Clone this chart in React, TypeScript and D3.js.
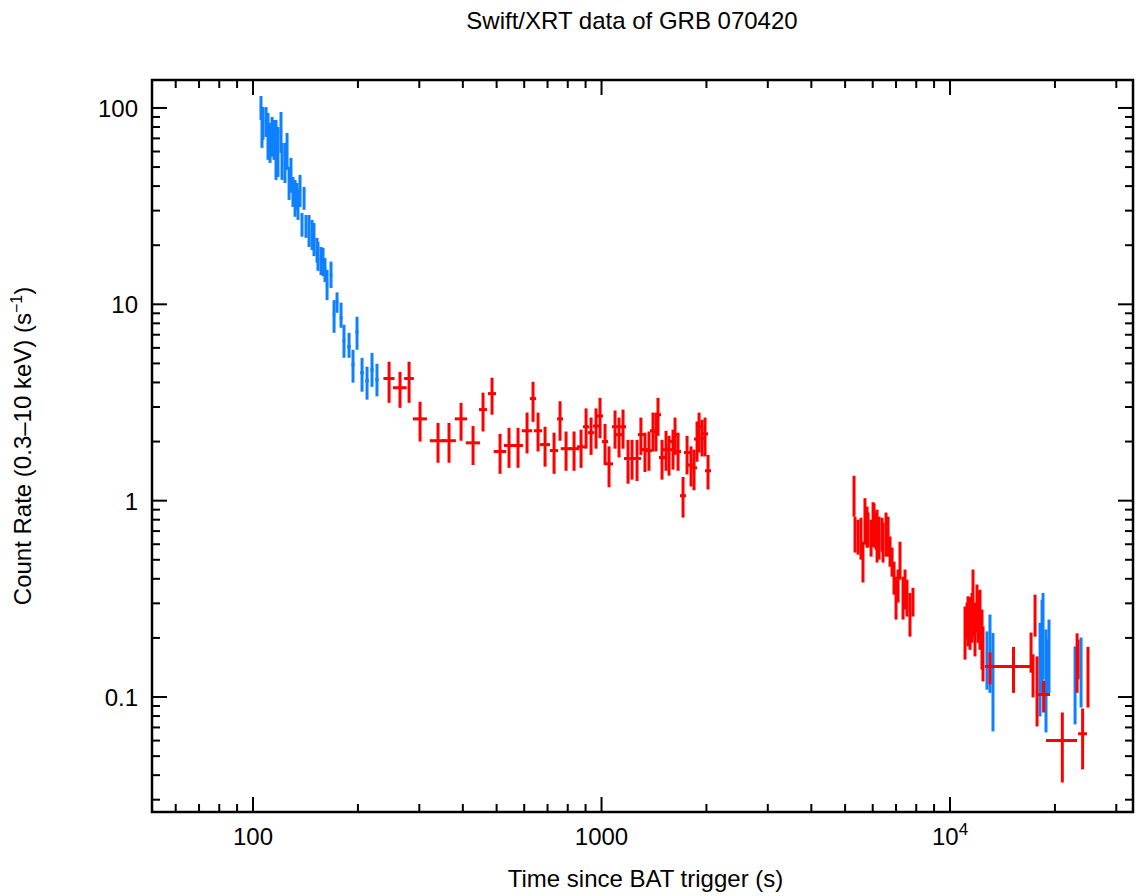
import React from 'react';
import * as d3 from 'd3';

// WT mode points (blue)
const wtTime = [105.4, 106.1, 106.8, 109.0, 110.4, 111.9, 113.4, 114.9, 116.4, 117.9, 120.3, 121.1, 123.5, 125.2, 126.9, 128.5, 130.2, 132.0, 133.7, 134.6, 136.4, 138.2, 140.1, 141.9, 144.8, 147.7, 149.6, 152.6, 153.6, 156.7, 158.8, 160.9, 163.1, 167.4, 170.8, 174.2, 178.9, 182.4, 188.6, 193.6, 198.8, 205.5, 212.4, 219.5, 226.8,
  12765, 13021, 13282, 18127, 18366, 18488, 18853, 18978, 19231, 22846, 23769];
const wtTimeErr = [0.8, 0.5, 0.6, 0.9, 0.7, 0.8, 0.8, 0.8, 0.8, 0.9, 0.9, 0.6, 1.0, 0.9, 0.9, 0.9, 0.9, 0.9, 0.8, 0.7, 1.0, 1.0, 1.0, 1.0, 1.0, 1.1, 1.1, 1.1, 1.0, 1.2, 1.2, 1.2, 1.3, 1.5, 1.5, 1.6, 1.8, 1.8, 2.2, 2.0, 2.0, 2.5, 2.5, 2.5, 2.5,
  40, 40, 40, 50, 50, 50, 50, 50, 60, 60, 60];
const wtRate = [100, 78.2, 83.9, 85.0, 71.2, 66.4, 71.2, 68.7, 61.1, 59.7, 75.5, 53.1, 52.5, 59.7, 41.5, 45.6, 37.4, 34.8, 35.3, 32.1, 37.9, 25.4, 34.8, 25.2, 23.6, 22.6, 21.3, 18.9, 17.5, 16.7, 16.5, 15.0, 12.6, 14.1, 8.84, 10.3, 8.54, 6.52, 6.08, 4.92, 7.25, 4.48, 4.08, 4.64, 4.13,
  0.153, 0.146, 0.123, 0.146, 0.165, 0.234, 0.123, 0.155, 0.176, 0.126, 0.138];
const wtRateLo = [86.9, 62.6, 68.7, 71.2, 54.4, 52.5, 56.4, 54.4, 43.0, 44.5, 59.0, 43.0, 41.5, 48.4, 34.0, 37.0, 31.3, 27.9, 30.3, 26.9, 31.3, 22.1, 30.3, 21.8, 19.6, 18.9, 17.6, 16.3, 14.8, 14.1, 13.9, 13.0, 10.5, 12.1, 7.16, 9.05, 7.59, 5.34, 5.34, 3.99, 5.87, 3.59, 3.27, 3.80, 3.40,
  0.109, 0.105, 0.0668, 0.0796, 0.105, 0.123, 0.066, 0.105, 0.105, 0.0725, 0.0884];
const wtRateHi = [115.1, 97.7, 101.2, 101.0, 94.3, 83.9, 90.0, 86.9, 86.9, 80.0, 95.4, 66.4, 66.4, 74.6, 50.1, 55.7, 44.5, 43.0, 41.5, 38.3, 45.6, 29.2, 39.6, 28.5, 28.5, 26.9, 26.0, 21.8, 20.8, 19.6, 19.4, 17.2, 15.0, 16.5, 10.5, 11.5, 10.2, 7.87, 7.16, 5.87, 8.64, 5.34, 4.81, 5.66, 4.98,
  0.216, 0.263, 0.212, 0.239, 0.313, 0.339, 0.221, 0.196, 0.248, 0.181, 0.201];

// PC mode points (red)
const pcTime = [245.7, 264.1, 280.4, 301.5, 339.5, 365.1, 395.3, 427.9, 457.1, 485.1, 511.5, 542.7, 576.0, 611.3, 636.0, 657.4, 688.6, 730.8, 760.3, 791.0, 834.0, 873.5, 902.9, 933.2, 964.3, 990.1, 1023.4, 1050.9, 1093.4, 1122.6, 1152.7, 1191.4, 1223.3, 1264.4, 1297.2, 1332.6, 1368.3, 1405.0, 1433.4, 1452.3, 1491.3, 1531.3, 1562.1, 1603.9, 1625.2, 1657.9, 1713.6, 1759.5, 1806.6, 1842.8, 1879.7, 1904.7, 1942.8, 1981.7, 2021.3,
  5303, 5338, 5445, 5552, 5626, 5701, 5780, 5818, 5935, 6014, 6054, 6134, 6175, 6256, 6381, 6424, 6552, 6640, 6728, 6817, 6907, 6999, 7093, 7186, 7331, 7429, 7527, 7675, 7829,
  11042, 11189, 11263, 11411, 11563, 11640, 11794, 11951, 12030, 12190, 12352, 12434, 13029, 15213, 17080, 17307, 17537, 17770, 18564, 21000, 23150, 23303, 24014, 24884];
const pcTimeErr = [9, 12, 9, 14, 18, 17, 16, 20, 12, 13, 21, 18, 19, 21, 13, 18, 23, 20, 15, 27, 28, 23, 18, 19, 19, 20, 21, 28, 22, 23, 23, 32, 33, 34, 26, 27, 28, 28, 29, 29, 30, 31, 31, 32, 33, 33, 34, 35, 36, 37, 38, 38, 39, 40, 40,
  30, 25, 30, 30, 30, 30, 30, 30, 30, 30, 30, 30, 30, 30, 30, 30, 35, 35, 35, 35, 40, 40, 40, 45, 45, 45, 45, 50, 60,
  60, 60, 60, 60, 60, 60, 60, 60, 60, 70, 70, 70, 430, 1754, 90, 90, 90, 90, 794, 2150, 100, 100, 711, 120];
const pcRate = [4.19, 3.76, 4.19, 2.61, 2.02, 2.02, 2.61, 1.97, 2.91, 3.51, 1.78, 1.91, 1.91, 2.27, 3.31, 2.27, 1.93, 1.80, 2.61, 1.84, 1.84, 1.88, 2.38, 2.22, 2.40, 2.70, 2.00, 1.54, 2.38, 2.17, 2.38, 1.64, 1.64, 1.64, 2.17, 1.82, 1.80, 2.27, 2.25, 2.74, 1.66, 1.82, 1.82, 2.00, 2.17, 1.78, 1.06, 1.76, 1.52, 1.47, 2.06, 2.38, 2.08, 2.19, 1.42,
  1.09, 0.705, 0.657, 0.657, 0.501, 0.791, 0.737, 0.712, 0.648, 0.791, 0.791, 0.672, 0.657, 0.648, 0.705, 0.604, 0.712, 0.657, 0.544, 0.489, 0.402, 0.319, 0.352, 0.495, 0.332, 0.339, 0.313, 0.296, 0.303,
  0.208, 0.242, 0.234, 0.221, 0.248, 0.313, 0.221, 0.279, 0.248, 0.248, 0.196, 0.169, 0.143, 0.143, 0.171, 0.138, 0.269, 0.127, 0.103, 0.0601, 0.146, 0.138, 0.0650, 0.133];
const pcRateLo = [3.15, 2.97, 3.15, 2.00, 1.56, 1.56, 2.02, 1.52, 2.25, 2.74, 1.37, 1.47, 1.47, 1.74, 2.52, 1.78, 1.49, 1.37, 2.02, 1.42, 1.42, 1.47, 1.84, 1.71, 1.84, 2.08, 1.52, 1.17, 1.84, 1.66, 1.84, 1.22, 1.28, 1.26, 1.71, 1.40, 1.42, 1.78, 1.78, 2.14, 1.28, 1.42, 1.34, 1.44, 1.71, 1.42, 0.82, 1.36, 1.18, 1.13, 1.58, 1.76, 1.68, 1.68, 1.14,
  0.829, 0.544, 0.531, 0.501, 0.383, 0.597, 0.577, 0.577, 0.519, 0.584, 0.577, 0.563, 0.484, 0.501, 0.550, 0.484, 0.519, 0.519, 0.461, 0.410, 0.332, 0.248, 0.303, 0.396, 0.248, 0.279, 0.257, 0.203, 0.257,
  0.155, 0.196, 0.181, 0.174, 0.189, 0.203, 0.161, 0.213, 0.189, 0.174, 0.138, 0.120, 0.116, 0.105, 0.133, 0.0996, 0.203, 0.0708, 0.0834, 0.0367, 0.105, 0.123, 0.0428, 0.0884];
const pcRateHi = [5.10, 4.53, 5.10, 3.19, 2.49, 2.49, 3.15, 2.40, 3.55, 4.23, 2.19, 2.35, 2.35, 2.81, 4.03, 2.81, 2.38, 2.22, 3.21, 2.25, 2.25, 2.30, 2.95, 2.65, 2.95, 3.34, 2.46, 1.89, 2.88, 2.65, 2.91, 2.04, 2.04, 2.04, 2.65, 2.22, 2.25, 2.81, 2.81, 3.34, 2.04, 2.27, 2.14, 2.30, 2.65, 2.22, 1.32, 2.14, 1.89, 1.82, 2.53, 2.81, 2.58, 2.65, 1.71,
  1.34, 0.829, 0.800, 0.819, 0.618, 1.03, 0.933, 0.870, 0.800, 0.982, 0.970, 0.870, 0.900, 0.829, 0.819, 0.773, 0.870, 0.829, 0.657, 0.577, 0.489, 0.410, 0.446, 0.618, 0.410, 0.446, 0.396, 0.339, 0.360,
  0.289, 0.303, 0.326, 0.323, 0.339, 0.446, 0.303, 0.374, 0.345, 0.352, 0.279, 0.229, 0.169, 0.180, 0.213, 0.165, 0.332, 0.161, 0.121, 0.0834, 0.211, 0.196, 0.0874, 0.180];

// axis settings
const xDomain = [51.3, 33500];
const yDomain = [0.02597, 138.8];
const xTickValues = [100, 1000, 10000];
const xTickLabels = ['100', '1000', '10^4'];
const yTickValues = [0.1, 1, 10, 100];
const yTickLabels = ['0.1', '1', '10', '100'];

const BLUE = '#0f80ff';
const RED = '#ff0000';
const FONT = 'Liberation Sans, Arial, Helvetica, sans-serif';

const W = 1136;
const H = 896;
const left = 152, right = 1133, top = 80, bottom = 812;

const isMajor = (v: number) => Math.abs(Math.log10(v) - Math.round(Math.log10(v))) < 1e-6;

const Label = ({ text }: { text: string }) => {
  // "10^4" -> 10 with superscript
  if (text.includes('^')) {
    const [base, exp] = text.split('^');
    return (<>{base}<tspan dy={-10} fontSize={17}>{exp}</tspan></>);
  }
  return <>{text}</>;
};

const ErrorPoints = ({ x, y, t, te, r, lo, hi, color }: any) => (
  <g stroke={color} strokeWidth={3} fill="none">
    {t.map((tv: number, i: number) => (
      <g key={i}>
        <line x1={x(tv)} x2={x(tv)} y1={y(lo[i])} y2={y(hi[i])} />
        <line x1={x(tv - te[i])} x2={x(tv + te[i])} y1={y(r[i])} y2={y(r[i])} />
      </g>
    ))}
  </g>
);

const App = () => {
  const x = d3.scaleLog().domain(xDomain).range([left, right]);
  const y = d3.scaleLog().domain(yDomain).range([bottom, top]);

  const xTicks = x.ticks();
  const yTicks = y.ticks();

  return (
    <div style={{ position: 'absolute', left: 0, top: 0 }}>
      <svg width={W} height={H} style={{ display: 'block', background: '#fff' }} fontFamily={FONT}>
        <rect x={0} y={0} width={W} height={H} fill="#fff" />
        <text x={632} y={29} textAnchor="middle" fontSize={24}>Swift/XRT data of GRB 070420</text>

        <ErrorPoints x={x} y={y} t={wtTime} te={wtTimeErr} r={wtRate} lo={wtRateLo} hi={wtRateHi} color={BLUE} />
        <ErrorPoints x={x} y={y} t={pcTime} te={pcTimeErr} r={pcRate} lo={pcRateLo} hi={pcRateHi} color={RED} />

        {/* ticks, inward on all sides */}
        <g stroke="#000" strokeWidth={2}>
          {xTicks.map((v, i) => {
            const len = isMajor(v) ? 15 : 8;
            const px = x(v);
            return (
              <g key={'x' + i}>
                <line x1={px} x2={px} y1={bottom} y2={bottom - len} />
                <line x1={px} x2={px} y1={top} y2={top + len} />
              </g>
            );
          })}
          {yTicks.map((v, i) => {
            const len = isMajor(v) ? 15 : 8;
            const py = y(v);
            return (
              <g key={'y' + i}>
                <line x1={left} x2={left + len} y1={py} y2={py} />
                <line x1={right} x2={right - len} y1={py} y2={py} />
              </g>
            );
          })}
        </g>
        <rect x={left} y={top} width={right - left} height={bottom - top} fill="none" stroke="#000" strokeWidth={2.5} />

        {xTickValues.map((v, i) => (
          <text key={'xl' + i} x={x(v)} y={845} textAnchor="middle" fontSize={24}>
            <Label text={xTickLabels[i]} />
          </text>
        ))}
        {yTickValues.map((v, i) => (
          <text key={'yl' + i} x={138} y={y(v) + 9} textAnchor="end" fontSize={24}>{yTickLabels[i]}</text>
        ))}

        <text x={(left + right) / 2 + 3} y={887} textAnchor="middle" fontSize={24}>Time since BAT trigger (s)</text>
        <text transform={`translate(31, ${(top + bottom) / 2}) rotate(-90)`} textAnchor="middle" fontSize={24}>
          Count Rate (0.3–10 keV) (s<tspan dy={-9} fontSize={16}>−1</tspan><tspan dy={9}>)</tspan>
        </text>
      </svg>
    </div>
  );
};

export default App;
